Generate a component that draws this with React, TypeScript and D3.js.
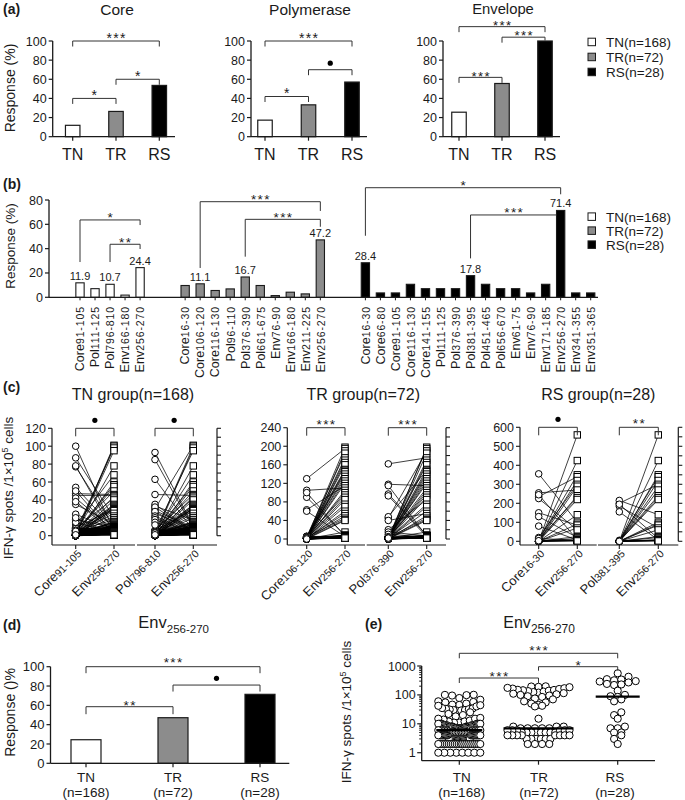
import React from 'react';
import * as d3 from 'd3';

const FONT = "Arial, 'Liberation Sans', Helvetica, sans-serif";
const INK = '#1a1a1a';
const BRK = '#333333';

// ---------- shared ----------
const GROUPS = ['TN', 'TR', 'RS'];
const LEGEND_LABELS = ['TN(n=168)', 'TR(n=72)', 'RS(n=28)'];
const GROUP_N = ['(n=168)', '(n=72)', '(n=28)'];
const GROUP_FILLS = ['#ffffff', '#8c8c8c', '#000000'];

// ---------- (a) ----------
const A_TITLES = ['Core', 'Polymerase', 'Envelope'];
const A_CORE = [11.9, 26.4, 53.6];
const A_POL = [17.3, 33.3, 57.1];
const A_ENV = [25.6, 55.6, 100];
const A_TICKS = [0, 20, 40, 60, 80, 100];
// [TN vs RS, TR vs RS, TN vs TR]
const A_SIG = [['***', '*', '*'], ['***', 'dot', '*'], ['***', '***', '***']];

// ---------- (b) ----------
const B_TICKS = [0, 20, 40, 60, 80];
const B_TN_NAMES = ['Core', 'Pol', 'Pol', 'Env', 'Env'];
const B_TN_RANGES = ['91-105', '111-125', '796-810', '166-180', '256-270'];
const B_TN_VALUES = [11.9, 7.1, 10.7, 1.8, 24.4];
const B_TN_SHOWN = [0, 2, 4];
const B_TR_NAMES = ['Core', 'Core', 'Core', 'Pol', 'Pol', 'Pol', 'Env', 'Env', 'Env', 'Env'];
const B_TR_RANGES = ['16-30', '106-120', '116-130', '96-110', '376-390', '661-675', '76-90', '166-180', '211-225', '256-270'];
const B_TR_VALUES = [9.7, 11.1, 5.6, 6.9, 16.7, 9.7, 1.4, 4.2, 2.8, 47.2];
const B_TR_SHOWN = [1, 4, 9];
const B_RS_NAMES = ['Core', 'Core', 'Core', 'Core', 'Core', 'Pol', 'Pol', 'Pol', 'Pol', 'Pol', 'Env', 'Env', 'Env', 'Env', 'Env', 'Env'];
const B_RS_RANGES = ['16-30', '66-80', '91-105', '116-130', '141-155', '111-125', '376-390', '381-395', '451-465', '656-670', '61-75', '76-90', '171-185', '256-270', '341-355', '351-365'];
const B_RS_VALUES = [28.4, 3.6, 3.6, 10.7, 7.1, 7.1, 7.1, 17.8, 10.7, 7.1, 7.1, 3.6, 10.7, 71.4, 3.6, 3.6];
const B_RS_SHOWN = [0, 7, 13];

// ---------- (c) paired values (same index = same patient) ----------
const TN_ENV256 = [
  101, 100, 98, 95, 78, 68, 60, 57, 55, 50, 46, 45, 44, 42, 40,
  35, 34, 33, 32, 31, 30, 30, 29, 28, 25,
  22, 20, 18, 16, 15, 15, 14, 13, 12, 12, 11, 11,
  10, 10, 10, 10, 10, 10, 10, 10,
  9, 9, 9, 9, 9, 9, 9, 9,
  8, 8, 8, 8, 8, 8, 8, 8, 8, 8,
  7, 7, 7, 7, 7, 7, 7, 7, 7, 7,
  6, 6, 6, 6, 6, 6, 6, 6, 6, 6, 6, 6,
  5, 5, 5, 5, 5, 5, 5, 5, 5, 5, 5, 5, 5, 5, 5, 5,
  4, 4, 4, 4, 4, 4, 4, 4, 4, 4, 4, 4, 4, 4, 4, 4, 4, 4,
  3, 3, 3, 3, 3, 3, 3, 3, 3, 3, 3, 3, 3, 3, 3, 3, 3, 3, 3,
  2, 2, 2, 2, 2, 2, 2, 2, 2, 2, 2, 2, 2, 2, 2, 2, 2, 2, 2, 2, 2, 2,
  1, 1, 1, 1, 1, 1, 1, 1,
];
const TN_CORE91 = [
  2, 0, 5, 1, 3, 12, 0, 4, 2, 6, 47, 45, 1, 8, 0,
  3, 0, 6, 2, 0, 9, 1, 4, 0, 2,
  0, 87, 5, 1, 3, 0, 2, 35, 6, 0, 1, 4,
  77, 2, 0, 5, 1, 3, 0, 7,
  18, 0, 4, 2, 6, 1, 0, 3,
  54, 1, 0, 5, 2, 3, 0, 8, 1, 2,
  24, 0, 3, 1, 6, 0, 2, 4, 1, 0,
  42, 2, 0, 5, 1, 3, 7, 0, 2, 4, 1, 0,
  100, 3, 0, 1, 6, 2, 0, 4, 9, 1, 0, 3, 5, 2, 0, 1,
  38, 0, 2, 1, 5, 3, 0, 6, 1, 2, 0, 4, 8, 1, 0, 3, 2, 0,
  78, 15, 0, 2, 1, 4, 3, 0, 5, 2, 1, 0, 6, 3, 0, 2, 1, 4, 0,
  50, 0, 1, 3, 2, 0, 4, 1, 0, 5, 2, 3, 0, 1, 6, 2, 0, 3, 1, 0, 2, 4,
  20, 0, 2, 1, 3, 0, 5, 1,
];
const TN_POL796 = [
  30, 2, 0, 5, 1, 3, 0, 4, 1, 2, 6, 46, 0, 3, 1,
  0, 4, 1, 2, 0, 5, 3, 0, 1, 2,
  2, 0, 33, 1, 4, 0, 3, 2, 0, 5, 1, 0,
  93, 0, 2, 1, 4, 0, 3, 1,
  0, 28, 1, 3, 0, 2, 5, 0,
  85, 0, 2, 1, 4, 0, 3, 6, 1, 0,
  1, 25, 0, 3, 2, 0, 4, 1, 5, 0,
  63, 0, 2, 1, 3, 0, 4, 2, 1, 0, 5, 3,
  35, 0, 1, 2, 4, 0, 3, 1, 0, 2, 5, 1, 0, 3, 2, 0,
  32, 1, 0, 2, 3, 0, 4, 1, 2, 0, 5, 3, 1, 0, 2, 4, 0, 1,
  27, 22, 0, 1, 3, 2, 0, 4, 1, 0, 2, 5, 3, 0, 1, 2, 0, 4, 1,
  20, 18, 0, 2, 1, 3, 0, 4, 2, 1, 0, 3, 5, 0, 2, 1, 0, 4, 2, 3, 0, 1,
  15, 12, 0, 1, 2, 0, 3, 1,
];
const TR_ENV256 = [
  198, 195, 190, 185, 175, 170, 165, 160, 150, 148, 145, 140, 135, 130, 125, 120, 115, 110, 105, 100, 95, 90, 85,
  75, 70, 60, 55, 50, 45, 42, 40,
  15,
  8, 8, 8, 7, 7, 7, 7, 7,
  6, 6, 6, 6, 6, 6,
  5, 5, 5, 5, 5, 5, 5, 5,
  4, 4, 4, 4, 4, 4, 4, 4,
  3, 3, 3, 3, 3, 3,
  2, 2, 2, 2,
];
const TR_CORE106 = [
  2, 130, 0, 5, 1, 3, 0, 2, 4, 1, 0, 6, 2, 3, 0, 1, 63, 105, 0, 2, 5, 1, 0,
  3, 0, 1, 2, 0, 4, 1, 0,
  0,
  90, 2, 0, 1, 3, 0, 5, 1,
  100, 0, 2, 1, 0, 3,
  60, 1, 0, 2, 4, 0, 1, 3,
  0, 2, 1, 0, 3, 5, 0, 1,
  2, 0, 1, 4, 0, 3,
  0, 1, 2, 0,
];
const TR_POL376 = [
  0, 3, 45, 1, 162, 2, 0, 5, 1, 48, 0, 3, 2, 1, 0, 4, 118, 2, 0, 1, 3, 0, 20,
  1, 0, 2, 40, 0, 3, 1, 0,
  2,
  97, 0, 1, 2, 0, 3, 1, 15,
  0, 115, 2, 0, 1, 3,
  93, 1, 0, 2, 10, 0, 1, 3,
  0, 2, 1, 0, 3, 4, 0, 1,
  1, 0, 2, 5, 0, 3,
  0, 1, 0, 2,
];
const RS_ENV256 = [560, 425, 350, 340, 320, 300, 290, 270, 240, 230, 220, 140, 100, 90, 85, 70, 60, 25, 20, 15, 8, 7, 7, 5, 5, 4, 3, 2];
const RS_CORE16 = [0, 0, 5, 235, 0, 20, 0, 255, 0, 10, 0, 0, 355, 0, 150, 0, 225, 0, 130, 0, 245, 80, 0, 15, 0, 0, 0, 3];
const RS_POL381 = [0, 0, 0, 5, 0, 200, 0, 0, 3, 0, 0, 215, 0, 0, 0, 185, 0, 0, 0, 195, 0, 0, 155, 0, 0, 2, 0, 0];

const C_TN_LABELS = [['Core', '91-105'], ['Env', '256-270'], ['Pol', '796-810'], ['Env', '256-270']];
const C_TR_LABELS = [['Core', '106-120'], ['Env', '256-270'], ['Pol', '376-390'], ['Env', '256-270']];
const C_RS_LABELS = [['Core', '16-30'], ['Env', '256-270'], ['Pol', '381-395'], ['Env', '256-270']];

// ---------- (d) ----------
const D_VALUES = [24.4, 47.2, 71.4];
const D_TICKS = [0, 20, 40, 60, 80, 100];
const D_SIG = ['***', 'dot', '**'];

// ---------- (e) ----------
const E_TICKS = [1, 10, 100, 1000];
const E_SIG = ['***', '*', '***'];

// ================= helpers =================
function Stars({ x, cy, label, fs = 13.5, ls = 1.4 }: any) {
  if (label === 'dot') return <circle cx={x} cy={cy} r={2.6} fill="#000" />;
  return (
    <text x={x + ls / 2} y={cy + 0.58 * fs} textAnchor="middle" fontSize={fs} style={{ letterSpacing: `${ls}px` }} fill={INK}>
      {label}
    </text>
  );
}

function Bracket({ x1, x2, y, d1, d2, label, off = 6, fs = 13.5 }: any) {
  const p = d3.path();
  p.moveTo(x1, y + d1);
  p.lineTo(x1, y);
  p.lineTo(x2, y);
  if (d2 > 0) p.lineTo(x2, y + d2);
  return (
    <g>
      <path d={p.toString()} fill="none" stroke={BRK} strokeWidth={1} />
      <Stars x={(x1 + x2) / 2} cy={y - off} label={label} fs={fs} />
    </g>
  );
}

function Legend({ x, y0, dy }: any) {
  return (
    <g>
      {LEGEND_LABELS.map((l, i) => (
        <g key={l}>
          <rect x={x} y={y0 + i * dy - 3.8} width={7.5} height={7.5} fill={GROUP_FILLS[i]} stroke={INK} strokeWidth={1} />
          <text x={x + 18} y={y0 + i * dy} dy="0.36em" fontSize={13.5} fill={INK}>{l}</text>
        </g>
      ))}
    </g>
  );
}

// ================= (a) =================
const A_LAYOUT = [
  { axisX: 52.7, axisEnd: 175, first: 72.7, last: 159.3, titleX: 117, titleY: 15, titleFs: 15.5, brk: [100, 60, 40], off: 6.5, fs: 14 },
  { axisX: 251, axisEnd: 367, first: 265, last: 352, titleX: 310, titleY: 15, titleFs: 15.5, brk: [100, 70, 42], off: 6.5, fs: 14 },
  { axisX: 443, axisEnd: 560, first: 459, last: 545, titleX: 503, titleY: 13.5, titleFs: 14.8, brk: [115, 104, 62], off: 4.3, fs: 13 },
];

function PanelA({ idx, values }: any) {
  const lay = A_LAYOUT[idx];
  const y = d3.scaleLinear().domain([0, 100]).range([136.7, 41]);
  const x = d3.scalePoint().domain(GROUPS).range([lay.first, lay.last]);
  const bw = 14.5;
  const pairs = [[0, 2], [1, 2], [0, 1]];
  return (
    <g>
      <text x={lay.titleX} y={lay.titleY} textAnchor="middle" fontSize={lay.titleFs} fill={INK}>{A_TITLES[idx]}</text>
      {values.map((v: number, i: number) => (
        <rect key={i} x={(x(GROUPS[i]) as number) - bw / 2} y={y(v)} width={bw} height={y(0) - y(v)}
          fill={GROUP_FILLS[i]} stroke={INK} strokeWidth={1.2} />
      ))}
      <line x1={lay.axisX} x2={lay.axisX} y1={y(100)} y2={y(0)} stroke={INK} strokeWidth={1.3} />
      {A_TICKS.map((t) => (
        <g key={t}>
          <line x1={lay.axisX - 4} x2={lay.axisX} y1={y(t)} y2={y(t)} stroke={INK} strokeWidth={1.2} />
          <text x={lay.axisX - 6} y={y(t)} dy="0.36em" textAnchor="end" fontSize={12.5} fill={INK}>{t}</text>
        </g>
      ))}
      <line x1={lay.axisX} x2={lay.axisEnd} y1={y(0)} y2={y(0)} stroke={INK} strokeWidth={1.3} />
      {GROUPS.map((g) => (
        <g key={g}>
          <line x1={x(g)} x2={x(g)} y1={y(0)} y2={y(0) + 4} stroke={INK} strokeWidth={1.2} />
          <text x={x(g)} y={159.5} textAnchor="middle" fontSize={16} fill={INK}>{g}</text>
        </g>
      ))}
      {pairs.map(([a, b], k) => {
        const yy = y(lay.brk[k]);
        const x1 = x(GROUPS[a]) as number;
        const x2 = x(GROUPS[b]) as number;
        const d2 = Math.min(5.5, y(values[b]) - yy - 0.5);
        return <Bracket key={k} x1={x1} x2={x2} y={yy} d1={5.5} d2={d2} label={A_SIG[idx][k]} off={lay.off} fs={lay.fs} />;
      })}
    </g>
  );
}

// ================= (b) =================
function PanelB() {
  const y = d3.scaleLinear().domain([0, 80]).range([297.3, 200]);
  const x = d3.scaleLinear().domain([0, 34]).range([80, 590.7]);
  const bw = 8.3;
  const groups = [
    { start: 0, names: B_TN_NAMES, ranges: B_TN_RANGES, values: B_TN_VALUES, shown: B_TN_SHOWN, fill: GROUP_FILLS[0] },
    { start: 7, names: B_TR_NAMES, ranges: B_TR_RANGES, values: B_TR_VALUES, shown: B_TR_SHOWN, fill: GROUP_FILLS[1] },
    { start: 19, names: B_RS_NAMES, ranges: B_RS_RANGES, values: B_RS_VALUES, shown: B_RS_SHOWN, fill: GROUP_FILLS[2] },
  ];
  const axisX = 49;
  const brackets = [
    { a: 0, b: 4, v: 63.6, e1: 29, e2: 59.4, label: '*' },
    { a: 2, b: 4, v: 43.6, e1: 29, e2: 39.7, label: '**' },
    { a: 8, b: 16, v: 78.6, e1: 24.1, e2: 71, label: '***' },
    { a: 11, b: 16, v: 64.1, e1: 33.4, e2: 58, label: '***' },
    { a: 19, b: 32, v: 90.1, e1: 50.6, e2: 84.7, label: '*' },
    { a: 26, b: 32, v: 67.7, e1: 32, e2: null, label: '***' },
  ];
  return (
    <g>
      {groups.map((g) =>
        g.values.map((v, i) => {
          const cx = x(g.start + i);
          return (
            <g key={`${g.start}-${i}`}>
              <rect x={cx - bw / 2} y={y(v)} width={bw} height={y(0) - y(v)} fill={g.fill} stroke={INK} strokeWidth={1.1} />
              <line x1={cx} x2={cx} y1={y(0)} y2={y(0) + 3} stroke={INK} strokeWidth={1} />
              <text transform={`translate(${cx + 4.3},${306}) rotate(-90)`} textAnchor="end" fill={INK}>
                <tspan fontSize={12.5}>{g.names[i]}</tspan>
                <tspan fontSize={10.5} style={{ letterSpacing: '0.9px' }}>{g.ranges[i]}</tspan>
              </text>
              {g.shown.includes(i) && (
                <text x={cx} y={y(v) - 3} textAnchor="middle" fontSize={11} fill={INK}>{v.toFixed(1)}</text>
              )}
            </g>
          );
        })
      )}
      <line x1={axisX} x2={axisX} y1={y(80)} y2={y(0)} stroke={INK} strokeWidth={1.3} />
      {B_TICKS.map((t) => (
        <g key={t}>
          <line x1={axisX - 4} x2={axisX} y1={y(t)} y2={y(t)} stroke={INK} strokeWidth={1.2} />
          <text x={axisX - 6} y={y(t)} dy="0.36em" textAnchor="end" fontSize={12.5} fill={INK}>{t}</text>
        </g>
      ))}
      <line x1={axisX} x2={598} y1={y(0)} y2={y(0)} stroke={INK} strokeWidth={1.3} />
      {brackets.map((b, k) => {
        const yy = y(b.v);
        const x2 = b.e2 === null ? x(b.b) - bw / 2 : x(b.b);
        return (
          <Bracket key={k} x1={x(b.a)} x2={x2} y={yy} d1={y(b.e1) - yy} d2={b.e2 === null ? 0 : y(b.e2) - yy}
            label={b.label} off={5.5} fs={13.5} />
        );
      })}
      <text transform="translate(14.5,246) rotate(-90)" textAnchor="middle" fontSize={13.5} fill={INK}>Response (%)</text>
      <Legend x={588} y0={216.7} dy={14} />
    </g>
  );
}

// ================= (c) =================
const C_CFG = [
  {
    title: 'TN group(n=168)', titleX: 133, yMax: 120, step: 20, minor: 10, y0: 535.7, yTop: 428.3,
    leftAxis: 52, rightAxis: 217, seg1: [52, 135], seg2: [137, 217], pair1: [75.7, 114], pair2: [155, 193.3],
    left1: TN_CORE91, left2: TN_POL796, right: TN_ENV256, labels: C_TN_LABELS, sig: ['dot', 'dot'],
  },
  {
    title: 'TR group(n=72)', titleX: 363.3, yMax: 240, step: 40, minor: 20, y0: 539, yTop: 427.7,
    leftAxis: 287.3, rightAxis: 446, seg1: [287.3, 365], seg2: [366.7, 446], pair1: [306.7, 345], pair2: [388.3, 426.7],
    left1: TR_CORE106, left2: TR_POL376, right: TR_ENV256, labels: C_TR_LABELS, sig: ['***', '***'],
  },
  {
    title: 'RS group(n=28)', titleX: 598.3, yMax: 600, step: 100, minor: 50, y0: 541.3, yTop: 427.3,
    leftAxis: 520, rightAxis: 678.3, seg1: [520, 596.7], seg2: [598, 678.3], pair1: [538.7, 577.3], pair2: [619.3, 658.3],
    left1: RS_CORE16, left2: RS_POL381, right: RS_ENV256, labels: C_RS_LABELS, sig: ['dot', '**'],
  },
];

function PairedPanel({ cfg }: any) {
  const y = d3.scaleLinear().domain([0, cfg.yMax]).range([cfg.y0, cfg.yTop]);
  const ticks = d3.range(0, cfg.yMax + 0.01, cfg.step);
  const minor = d3.range(0, cfg.yMax + 0.01, cfg.minor);
  const axisY = 545;
  const pairs = [
    { x: d3.scalePoint().domain(['pep', 'env']).range(cfg.pair1), left: cfg.left1 },
    { x: d3.scalePoint().domain(['pep', 'env']).range(cfg.pair2), left: cfg.left2 },
  ];
  const sq = 6.4;
  const xs = [cfg.pair1[0], cfg.pair1[1], cfg.pair2[0], cfg.pair2[1]];
  return (
    <g>
      <text x={cfg.titleX} y={400} textAnchor="middle" fontSize={16} fill={INK}>{cfg.title}</text>
      {pairs.map((p, k) => (
        <g key={k}>
          {p.left.map((lv: number, i: number) => (
            <line key={i} x1={p.x('pep')} y1={y(lv)} x2={p.x('env')} y2={y(cfg.right[i])} stroke="#000" strokeWidth={0.75} />
          ))}
          {p.left.map((lv: number, i: number) => (
            <circle key={`c${i}`} cx={p.x('pep')} cy={y(lv)} r={3.3} fill="#fff" stroke="#000" strokeWidth={1} />
          ))}
          {cfg.right.map((rv: number, i: number) => (
            <rect key={`s${i}`} x={(p.x('env') as number) - sq / 2} y={y(rv) - sq / 2} width={sq} height={sq} fill="#fff" stroke="#000" strokeWidth={1} />
          ))}
          <Bracket x1={p.x('pep')} x2={p.x('env')} y={y(cfg.yMax)} d1={8} d2={8} label={cfg.sig[k]} off={cfg.sig[k] === 'dot' ? 8 : 7} fs={13.5} />
        </g>
      ))}
      <line x1={cfg.leftAxis} x2={cfg.leftAxis} y1={y(cfg.yMax)} y2={axisY} stroke={INK} strokeWidth={1.2} />
      {ticks.map((t: number) => (
        <g key={t}>
          <line x1={cfg.leftAxis - 4} x2={cfg.leftAxis} y1={y(t)} y2={y(t)} stroke={INK} strokeWidth={1.1} />
          <text x={cfg.leftAxis - 6} y={y(t)} dy="0.36em" textAnchor="end" fontSize={12.5} fill={INK}>{t}</text>
        </g>
      ))}
      <line x1={cfg.rightAxis} x2={cfg.rightAxis} y1={y(cfg.yMax)} y2={y(0)} stroke={INK} strokeWidth={1.2} />
      {minor.map((t: number) => (
        <line key={t} x1={cfg.rightAxis} x2={cfg.rightAxis + 4} y1={y(t)} y2={y(t)} stroke={INK} strokeWidth={1.1} />
      ))}
      <line x1={cfg.seg1[0]} x2={cfg.seg1[1]} y1={axisY} y2={axisY} stroke={INK} strokeWidth={1.2} />
      <line x1={cfg.seg2[0]} x2={cfg.seg2[1]} y1={axisY} y2={axisY} stroke={INK} strokeWidth={1.2} />
      {xs.map((xx: number, i: number) => (
        <g key={i}>
          <line x1={xx} x2={xx} y1={axisY} y2={axisY + 4} stroke={INK} strokeWidth={1.1} />
          <text transform={`translate(${xx + 3},${551}) rotate(-45)`} textAnchor="end" dy="0.3em" fill={INK}>
            <tspan fontSize={13}>{cfg.labels[i][0]}</tspan>
            <tspan fontSize={10.5}>{cfg.labels[i][1]}</tspan>
          </text>
        </g>
      ))}
    </g>
  );
}

// ================= (d) =================
function PanelD() {
  const y = d3.scaleLinear().domain([0, 100]).range([763.3, 666.7]);
  const x = d3.scalePoint().domain(GROUPS).range([86, 260]);
  const axisX = 50.5;
  const bw = 30;
  const pairs = [[0, 2, 100, 6.5, 7.5], [1, 2, 81, 6.5, 6.7], [0, 1, 58.6, 7.5, 5]];
  return (
    <g>
      <text x={138.3} y={628.3} fontSize={16.5} fill={INK}>
        Env<tspan fontSize={11.5} dy={5}>256-270</tspan>
      </text>
      {D_VALUES.map((v, i) => (
        <rect key={i} x={(x(GROUPS[i]) as number) - bw / 2} y={y(v)} width={bw} height={y(0) - y(v)} fill={GROUP_FILLS[i]} stroke={INK} strokeWidth={1.2} />
      ))}
      <line x1={axisX} x2={axisX} y1={y(100)} y2={y(0)} stroke={INK} strokeWidth={1.3} />
      {D_TICKS.map((t) => (
        <g key={t}>
          <line x1={axisX - 4} x2={axisX} y1={y(t)} y2={y(t)} stroke={INK} strokeWidth={1.2} />
          <text x={axisX - 6} y={y(t)} dy="0.36em" textAnchor="end" fontSize={13} fill={INK}>{t}</text>
        </g>
      ))}
      <line x1={axisX} x2={289.3} y1={y(0)} y2={y(0)} stroke={INK} strokeWidth={1.3} />
      {GROUPS.map((g, i) => (
        <g key={g}>
          <line x1={x(g)} x2={x(g)} y1={y(0)} y2={y(0) + 4} stroke={INK} strokeWidth={1.2} />
          <text x={x(g)} y={782} textAnchor="middle" fontSize={13.5} fill={INK}>{g}</text>
          <text x={x(g)} y={796.5} textAnchor="middle" fontSize={13.5} fill={INK}>{GROUP_N[i]}</text>
        </g>
      ))}
      {pairs.map(([a, b, v, d, off], k) => (
        <Bracket key={k} x1={x(GROUPS[a])} x2={x(GROUPS[b])} y={y(v)} d1={d} d2={d} label={D_SIG[k]} off={off} fs={13.5} />
      ))}
      <text transform="translate(14.5,712.5) rotate(-90)" textAnchor="middle" fontSize={14} fill={INK}>Response ()%</text>
    </g>
  );
}

// ================= (e) =================
function swarm(values: number[], yFn: any, cx: number, maxHalf: number, r: number, bin: number) {
  const pts = values.map((v) => ({ v, y: yFn(v) }));
  const groups = d3.groups(pts, (p: any) => Math.round(p.y / bin));
  const out: any[] = [];
  groups.forEach(([, g]: any) => {
    const sorted = g.slice().sort((a: any, b: any) => a.v - b.v);
    const n = sorted.length;
    const step = n > 1 ? Math.min(2 * r, (2 * maxHalf) / (n - 1)) : 0;
    const slots = d3.range(n).map((j) => (j - (n - 1) / 2) * step).sort((a, b) => Math.abs(a) - Math.abs(b));
    sorted.forEach((p: any, i: number) => out.push({ x: cx + slots[i], y: p.y }));
  });
  return out;
}

function PanelE() {
  const y = d3.scaleLog().domain([1, 1000]).range([752.7, 666]);
  const x = d3.scalePoint().domain(GROUPS).range([459.3, 617.7]);
  const axisX = 421.7;
  const axisY = 760.7;
  const cols = [
    { vals: TN_ENV256, half: 21, med: 23 },
    { vals: TR_ENV256, half: 31, med: 35 },
    { vals: RS_ENV256, half: 19, med: 22 },
  ];
  const minor: number[] = [];
  [1, 10, 100].forEach((d) => d3.range(2, 10).forEach((m) => minor.push(d * m)));
  const pairs = [[0, 2, 653.3, 5, 6.6], [1, 2, 666.7, 4, 5], [0, 1, 678, 5, 5]];
  const labelX = [461.7, 539, 615];
  return (
    <g>
      <text x={503.3} y={628.3} fontSize={16} fill={INK}>
        Env<tspan fontSize={12} dy={5}>256-270</tspan>
      </text>
      {cols.map((c, i) => {
        const cx = x(GROUPS[i]) as number;
        const pts = swarm(c.vals, y, cx, c.half, 3.6, 6);
        const med = d3.median(c.vals) as number;
        return (
          <g key={i}>
            {pts.map((p, k) => (
              <circle key={k} cx={p.x} cy={p.y} r={3.6} fill="#fff" stroke="#000" strokeWidth={1} />
            ))}
            <line x1={cx - c.med} x2={cx + c.med} y1={y(med)} y2={y(med)} stroke="#000" strokeWidth={2.2} />
          </g>
        );
      })}
      <line x1={axisX} x2={axisX} y1={y(1000)} y2={axisY} stroke={INK} strokeWidth={1.3} />
      {E_TICKS.map((t) => (
        <g key={t}>
          <line x1={axisX - 4.5} x2={axisX} y1={y(t)} y2={y(t)} stroke={INK} strokeWidth={1.2} />
          <text x={axisX - 6} y={y(t)} dy="0.36em" textAnchor="end" fontSize={12.5} fill={INK}>{t}</text>
        </g>
      ))}
      {minor.map((t) => (
        <line key={t} x1={axisX - 2.5} x2={axisX} y1={y(t)} y2={y(t)} stroke={INK} strokeWidth={1} />
      ))}
      <line x1={axisX} x2={655} y1={axisY} y2={axisY} stroke={INK} strokeWidth={1.3} />
      {GROUPS.map((g, i) => (
        <g key={g}>
          <line x1={x(g)} x2={x(g)} y1={axisY} y2={axisY + 4} stroke={INK} strokeWidth={1.2} />
          <text x={labelX[i]} y={782} textAnchor="middle" fontSize={13.5} fill={INK}>{g}</text>
          <text x={labelX[i]} y={796.5} textAnchor="middle" fontSize={13.5} fill={INK}>{GROUP_N[i]}</text>
        </g>
      ))}
      {pairs.map(([a, b, yy, d, off], k) => (
        <Bracket key={k} x1={x(GROUPS[a])} x2={x(GROUPS[b])} y={yy} d1={d} d2={d} label={E_SIG[k]} off={off} fs={13.5} />
      ))}
      <text transform="translate(351,712) rotate(-90)" textAnchor="middle" fontSize={13.5} fill={INK}>
        IFN-γ spots /1×10<tspan fontSize={9} dy={-5}>5</tspan><tspan dy={5}> cells</tspan>
      </text>
    </g>
  );
}

function PanelLetter({ x, y, t }: any) {
  return <text x={x} y={y} fontSize={14} fontWeight="bold" fill={INK}>{t}</text>;
}

export default function App() {
  return (
    <svg width={685} height={800} viewBox="0 0 685 800" fontFamily={FONT}
      style={{ position: 'absolute', left: 0, top: 0, background: '#fff', display: 'block' }}>
      <rect width={685} height={800} fill="#fff" />
      <PanelLetter x={3} y={14} t="(a)" />
      <PanelA idx={0} values={A_CORE} />
      <PanelA idx={1} values={A_POL} />
      <PanelA idx={2} values={A_ENV} />
      <text transform="translate(14.5,88) rotate(-90)" textAnchor="middle" fontSize={14} fill={INK}>Response (%)</text>
      <Legend x={588} y0={42} dy={15} />

      <PanelLetter x={3} y={189} t="(b)" />
      <PanelB />

      <PanelLetter x={3} y={392} t="(c)" />
      {C_CFG.map((c, i) => <PairedPanel key={i} cfg={c} />)}
      <text transform="translate(12.5,488) rotate(-90)" textAnchor="middle" fontSize={13.5} fill={INK}>
        IFN-γ spots /1×10<tspan fontSize={9} dy={-5}>5</tspan><tspan dy={5}> cells</tspan>
      </text>

      <PanelLetter x={3} y={630} t="(d)" />
      <PanelD />

      <PanelLetter x={365} y={629} t="(e)" />
      <PanelE />
    </svg>
  );
}
